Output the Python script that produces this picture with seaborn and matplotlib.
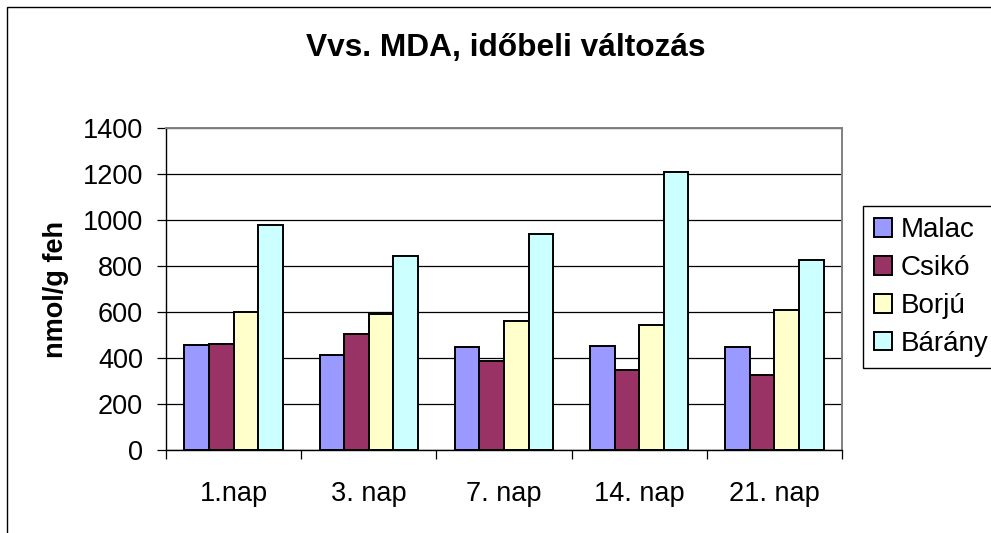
import matplotlib
matplotlib.use("Agg")
import matplotlib.pyplot as plt
import matplotlib.patches as mpatches
from matplotlib.ticker import FixedLocator
import seaborn as sns
import pandas as pd

# ---- data ----
days = ["1.nap", "3. nap", "7. nap", "14. nap", "21. nap"]
series_names = ["Malac", "Csikó", "Borjú", "Bárány"]
malac = [457, 414, 448, 454, 449]
csiko = [461, 504, 388, 346, 325]
borju = [601, 591, 559, 545, 610]
barany = [977, 842, 939, 1209, 828]
colors = ["#9999FF", "#993366", "#FFFFCC", "#CCFFFF"]
title = "Vvs. MDA, időbeli változás"
ylabel = "nmol/g feh"
yticks = [0, 200, 400, 600, 800, 1000, 1200, 1400]

rows = []
for name, vals in zip(series_names, [malac, csiko, borju, barany]):
    for d, v in zip(days, vals):
        rows.append({"nap": d, "állat": name, "érték": v})
df = pd.DataFrame(rows)

sns.set_style("white")
plt.rcParams["font.family"] = ["Liberation Sans", "DejaVu Sans"]
plt.rcParams["text.color"] = "black"
plt.rcParams["axes.labelcolor"] = "black"
plt.rcParams["xtick.color"] = "black"
plt.rcParams["ytick.color"] = "black"

W, H = 991, 533
fig = plt.figure(figsize=(W / 100, H / 100), dpi=100)
ax = fig.add_axes([166 / W, 1 - 450 / H, (842 - 166) / W, (450 - 128) / H])

sns.barplot(data=df, x="nap", y="érték", hue="állat", order=days,
            hue_order=series_names, palette=dict(zip(series_names, colors)),
            width=4 / 5.5, gap=0, saturation=1, edgecolor="black",
            linewidth=1.4, ax=ax, legend=False)

ax.set_xlim(-0.5, len(days) - 0.5)
ax.set_ylim(0, 1400)
ax.set_yticks(yticks)
ax.yaxis.grid(True, color="black", linewidth=0.9)
ax.xaxis.grid(False)
ax.set_axisbelow(True)
ax.set_xlabel("")
ax.set_ylabel("")

ax.tick_params(axis="y", which="major", length=6.5, width=0.9, color="black",
               labelcolor="black", pad=10, labelsize=19.5, direction="out",
               left=True)
ax.tick_params(axis="x", which="major", length=0, pad=22, labelsize=19.5,
               labelcolor="black")
ax.xaxis.set_minor_locator(FixedLocator([i - 0.5 for i in range(len(days) + 1)]))
ax.tick_params(axis="x", which="minor", length=6.5, width=0.9, color="black",
               direction="out", bottom=True)

for s in ["left", "bottom"]:
    ax.spines[s].set_color("black")
    ax.spines[s].set_linewidth(1.0)
for s in ["top", "right"]:
    ax.spines[s].set_color("#808080")
    ax.spines[s].set_linewidth(1.4)

fig.text(506 / W, 1 - 48 / H, title, ha="center", va="center",
         fontsize=22.8, fontweight="bold", color="black")
fig.text(56 / W, 1 - 289 / H, ylabel, ha="center", va="center",
         rotation=90, fontsize=19.5, fontweight="bold", color="black")

handles = [mpatches.Patch(facecolor=c, edgecolor="black", linewidth=1.4)
           for c in colors]
leg = fig.legend(handles, series_names, loc="upper left",
                 bbox_to_anchor=(863 / W, 1 - 206 / H), fontsize=20,
                 frameon=True, fancybox=False, shadow=False,
                 handlelength=0.65, handleheight=0.65, handletextpad=0.3,
                 borderpad=0.4, labelspacing=0.43, borderaxespad=0)
leg.get_frame().set_edgecolor("black")
leg.get_frame().set_linewidth(1.0)
leg.get_frame().set_alpha(1)
for t in leg.get_texts():
    t.set_color("black")

# outer chart frame (only left and top edges visible in the crop)
frame = mpatches.Rectangle((7 / W, -0.2), 1.5, 1.2 - 7 / H,
                           transform=fig.transFigure, fill=False,
                           edgecolor="black", linewidth=1.0, clip_on=False)
fig.add_artist(frame)

fig.savefig("out.png", dpi=100)
